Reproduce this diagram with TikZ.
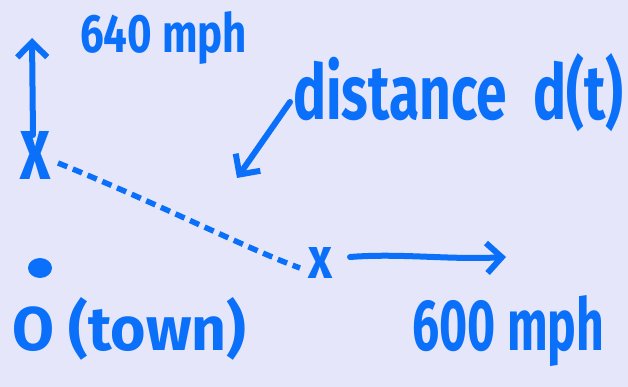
\documentclass[tikz,border=0pt]{standalone}
\usepackage{fontspec}
\setmainfont{Fira Sans}
\usetikzlibrary{arrows.meta}
\definecolor{bg}{RGB}{230,230,250}
\definecolor{ink}{RGB}{10,112,250}
\begin{document}
\begin{tikzpicture}[x=1pt,y=-1pt,
  stroke/.style={draw=ink, line width=6pt, line cap=round, line join=round},
  arr/.style={stroke, -{Straight Barb[length=15pt,width=30pt,line width=6pt]}},
  dsh/.style={draw=ink, line width=5.5pt, dash pattern=on 10pt off 6pt},
  lbl/.style={text=ink, inner sep=0pt, font=\fontsize{40}{40}\selectfont\bfseries}]
\fill[bg] (0,0) rectangle (628,387);
\useasboundingbox (0,0) rectangle (628,387);

% labels
\node[lbl, anchor=base west] (v1) at (80,53) {\resizebox{167pt}{41pt}{640 mph}};
\node[lbl, anchor=base west] (dist) at (293,120) {\resizebox{330pt}{66pt}{distance\ \ d(t)}};
\node[lbl, anchor=base west] (town) at (12,350) {\resizebox{234pt}{53pt}{O (town)}};
\node[lbl, anchor=base west] (v2) at (412,350) {\resizebox{192pt}{55pt}{600 mph}};
\node[lbl, anchor=base west] (x1) at (20,180) {\resizebox{30pt}{48pt}{x}};
\node[lbl, anchor=base west] (x2) at (308,278) {\resizebox{24pt}{31pt}{x}};

% town dot
\fill[ink] (40,268) ellipse [x radius=12, y radius=10];
\coordinate (dot) at (40,268);

% connector end points
\coordinate (upS) at (33,135);
\coordinate (upE) at (32,38);
\coordinate (dS) at (58,163);
\coordinate (dE) at (300,268);
\coordinate (rS) at (350,257);
\coordinate (rE) at (506,257);
\coordinate (aS) at (290,102);
\coordinate (aE) at (237,178);

\draw[arr] (upS) -- (upE);
\draw[dsh] (dS) .. controls (150,200) and (250,250) .. (dE);
\draw[arr] (rS) .. controls (400,253) and (450,260) .. (rE);
\draw[arr] (aS) -- (aE);
\end{tikzpicture}
\end{document}
